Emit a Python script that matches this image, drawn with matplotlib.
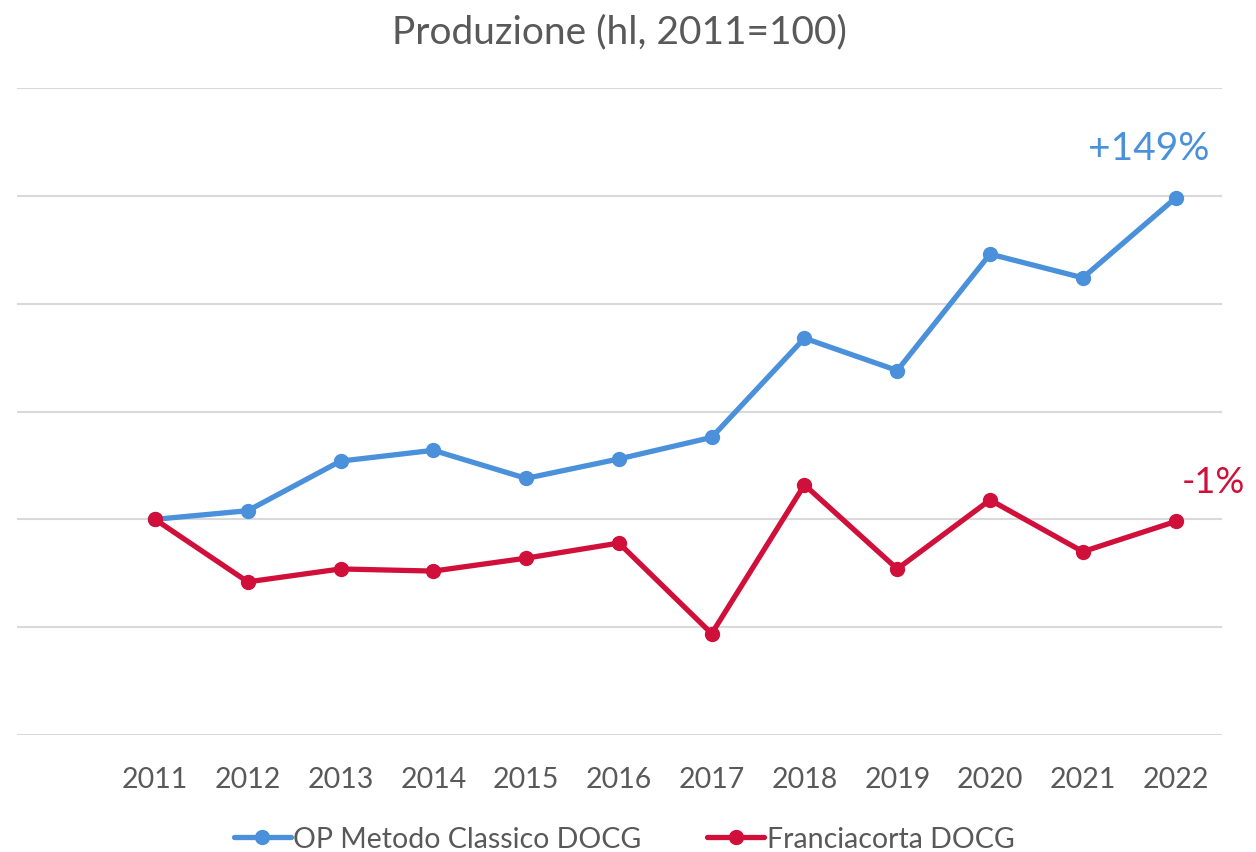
import matplotlib
matplotlib.use("Agg")
import matplotlib.pyplot as plt

# -----------------------------
# Data (2011 = 100)
# -----------------------------
years = [2011, 2012, 2013, 2014, 2015, 2016, 2017, 2018, 2019, 2020, 2021, 2022]
op_metodo = [100, 104, 127, 132, 119, 128, 138, 184, 169, 223, 212, 249]
franciacorta = [100, 71, 77, 76, 82, 89, 47, 116, 77, 109, 85, 99]

label_op = "OP Metodo Classico DOCG"
label_fr = "Franciacorta DOCG"
title = "Produzione (hl, 2011=100)"

BLUE = "#4A90DA"
RED = "#D0103A"
GREY = "#595959"

plt.rcParams['font.family'] = ['Lato', 'DejaVu Sans']

fig = plt.figure(figsize=(12.56, 8.53), dpi=100)
ax = fig.add_axes([17 / 1256, 117 / 853, 1205 / 1256, 647 / 853])

ax.plot(years, op_metodo, color=BLUE, lw=3.8, marker='o', ms=10,
        label=label_op, solid_capstyle='round')
ax.plot(years, franciacorta, color=RED, lw=3.8, marker='o', ms=10,
        label=label_fr, solid_capstyle='round')

ax.set_xlim(2011 - 1.487, 2022.5)
ax.set_ylim(0, 300)
ax.set_yticks(range(0, 301, 50))
ax.set_yticklabels([])
ax.tick_params(axis='y', length=0)
ax.set_xticks(years)
ax.set_xticklabels([str(y) for y in years], fontsize=20.5, color=GREY)
ax.tick_params(axis='x', length=0, pad=22)
ax.grid(axis='y', color='#D9D9D9', lw=1.5)
ax.set_axisbelow(True)
for s in ax.spines.values():
    s.set_visible(False)

# end labels
ax.annotate("+149%", (years[-1], op_metodo[-1]), xytext=(-19, 23),
            textcoords='offset points', ha='center', va='bottom',
            fontsize=28, color=BLUE)
ax.annotate("-1%", (years[-1], franciacorta[-1]), xytext=(27, 17),
            textcoords='offset points', ha='center', va='bottom',
            fontsize=26, color=RED)

fig.text(0.493, 0.962, title, ha='center', va='center', fontsize=28, color=GREY)

fig.legend(loc='center', bbox_to_anchor=(0.497, 0.015), ncol=2, frameon=False,
           fontsize=20.5, labelcolor=GREY, handlelength=2.0, handletextpad=0.1,
           columnspacing=2.3)

fig.savefig("out.png", dpi=100)
